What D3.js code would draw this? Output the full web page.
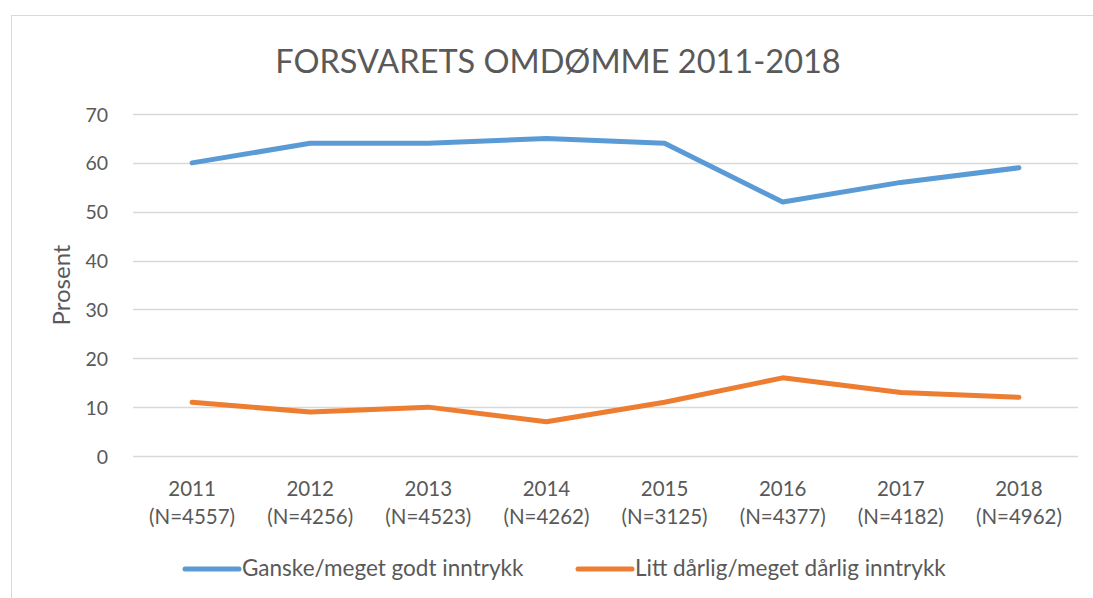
<!DOCTYPE html>
<html><head><meta charset="utf-8">
<script src="https://cdn.jsdelivr.net/npm/d3@7"></script>
<style>body{margin:0;background:#fff;} svg{display:block;} text{font-family:Lato,"Open Sans",sans-serif;fill:#595959;}</style>
</head><body>
<svg id="c" width="1093" height="598"></svg>
<script>
const years = ["2011","2012","2013","2014","2015","2016","2017","2018"];
const nLabels = ["(N=4557)","(N=4256)","(N=4523)","(N=4262)","(N=3125)","(N=4377)","(N=4182)","(N=4962)"];
const seriesNames = ["Ganske/meget godt inntrykk","Litt dårlig/meget dårlig inntrykk"];
const godt = [60,64,64,65,64,52,56,59];
const darlig = [11,9,10,7,11,16,13,12];
const yTicks = [0,10,20,30,40,50,60,70];
const colors = ["#5b9bd5","#ed7d31"];

const svg = d3.select("#c");
svg.append("rect").attr("x",11.5).attr("y",15.5).attr("width",1200).attr("height",700)
  .attr("fill","#fff").attr("stroke","#d9d9d9").attr("stroke-width",1);

const pL=133, pR=1078, pT=114, pB=456;
const x = d3.scaleBand().domain(years).range([pL,pR]);
const y = d3.scaleLinear().domain([0,70]).range([pB,pT]);

svg.append("text").attr("x",558).attr("y",73).attr("text-anchor","middle")
  .style("font-size","32.5px").text("FORSVARETS OMDØMME 2011-2018");

const g = svg.append("g");
g.selectAll("line.grid").data(yTicks).join("line")
  .attr("x1",pL).attr("x2",pR).attr("y1",d=>Math.round(y(d))+0.5).attr("y2",d=>Math.round(y(d))+0.5)
  .attr("stroke","#d9d9d9").attr("stroke-width",1.3);

const ya = d3.axisLeft(y).tickValues(yTicks).tickSize(0).tickPadding(0);
const yg = svg.append("g").attr("transform",`translate(${pL-25},0)`).call(ya);
yg.select(".domain").remove();
yg.selectAll("text").style("font-size","19.5px").style("font-family","Lato,'Open Sans',sans-serif").attr("fill","#595959").attr("dy","0.36em");

const xa = d3.axisBottom(x).tickSize(0).tickFormat(()=>"");
const xg = svg.append("g").attr("transform",`translate(0,${pB})`).call(xa);
xg.select(".domain").remove();
xg.selectAll(".tick").each(function(d,i){
  const t=d3.select(this);
  t.append("text").attr("y",40).attr("text-anchor","middle").style("font-size","20.5px").text(d);
  t.append("text").attr("y",68).attr("text-anchor","middle").style("font-size","20.5px").text(nLabels[i]);
});

svg.append("text").attr("transform","translate(70,285) rotate(-90)").attr("text-anchor","middle")
  .style("font-size","24px").text("Prosent");

const line = d3.line().x((d,i)=>x(years[i])+x.bandwidth()/2).y(d=>y(d));
[godt,darlig].forEach((s,k)=>{
  svg.append("path").datum(s).attr("d",line).attr("fill","none").attr("stroke",colors[k])
    .attr("stroke-width",5).attr("stroke-linecap","round").attr("stroke-linejoin","round");
});

const legX=[185,578];
seriesNames.forEach((n,k)=>{
  svg.append("line").attr("x1",legX[k]).attr("x2",legX[k]+54).attr("y1",569).attr("y2",569)
    .attr("stroke",colors[k]).attr("stroke-width",5).attr("stroke-linecap","round");
  svg.append("text").attr("x",legX[k]+57).attr("y",576).style("font-size","22.5px").text(n);
});
</script>
</body></html>
